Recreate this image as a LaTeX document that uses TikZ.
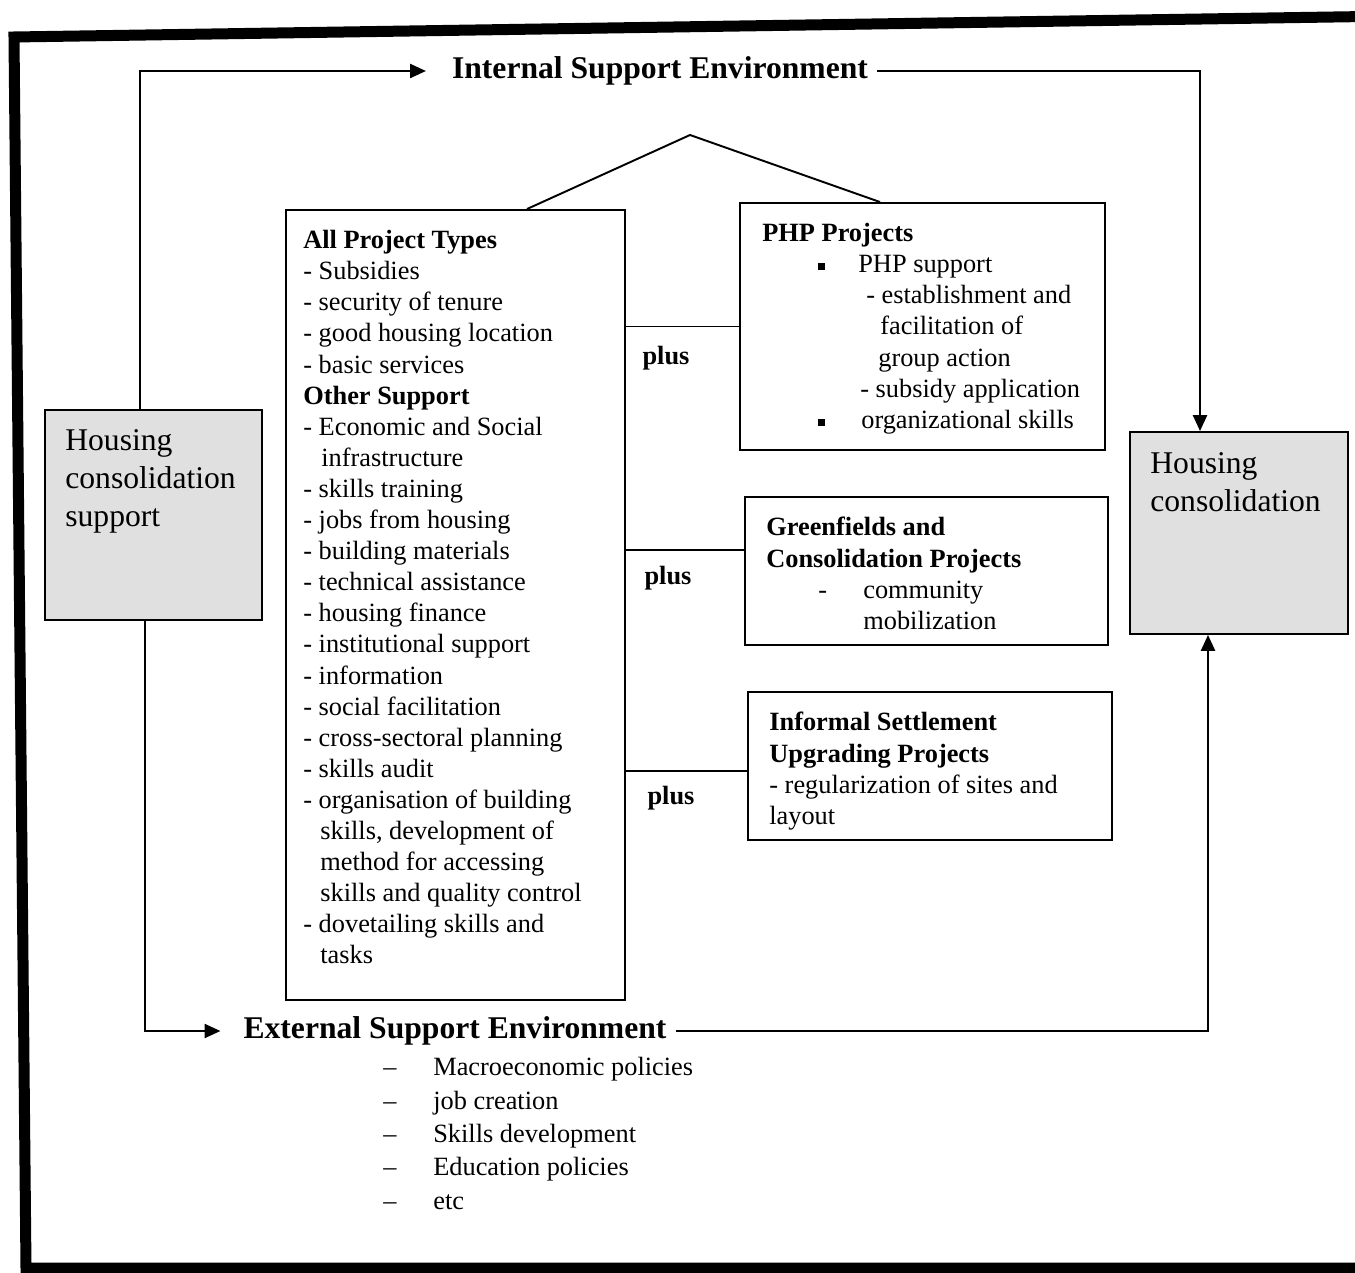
\documentclass[tikz,border=0pt]{standalone}
\usepackage{fontspec}
\setmainfont{Liberation Serif}
\usetikzlibrary{arrows.meta, fit}

\newcommand{\sqb}{\rule[1.5pt]{4pt}{4pt}}
\newcommand{\exitem}[1]{\makebox[1cm][l]{--}#1}

\begin{document}
\begin{tikzpicture}[x=0.02cm, y=-0.02cm,
  panel/.style={draw, line width=1.1pt, inner sep=0pt},
  hsgbox/.style={panel, fill=black!12},
  txt/.style={anchor=north west, align=left, inner sep=0pt, font=\fontsize{15}{17.7}\selectfont},
  bigtxt/.style={anchor=north west, align=left, inner sep=0pt, font=\fontsize{18}{21.6}\selectfont},
  head/.style={font=\fontsize{18}{21.6}\selectfont\bfseries, inner sep=5pt},
  plus/.style={font=\fontsize{15}{17.7}\selectfont\bfseries},
  link/.style={line width=1.1pt},
  arr/.style={link, -{Triangle[length=9pt,width=8pt]}}]
\useasboundingbox (0,0) rectangle (1355,1273);
\clip (0,0) rectangle (1355,1273);
\draw[line width=0.22cm, line join=miter] (1400,16) -- (14,37) -- (26,1268) -- (1400,1268);

\node[hsgbox, fit={(45,410) (262,620)}] (hcs) {};
\node[hsgbox, fit={(1130,432) (1348,634)}] (hc) {};
\node[panel, fit={(286,210) (625,1000)}] (allproj) {};
\node[panel, fit={(740,203) (1105,450)}] (php) {};
\node[panel, fit={(745,497) (1108,645)}] (gf) {};
\node[panel, fit={(748,692) (1112,840)}] (isu) {};

\node[bigtxt] (hcstxt) at (65,429) {Housing\\consolidation\\support};
\node[bigtxt] (hctxt) at (1150,452) {Housing\\consolidation};

\node[head] (internal) at (660,71) {Internal Support Environment};
\node[head] (external) at (455,1031) {External Support Environment};

\node[txt] (alltxt) at (303,230) {\textbf{All Project Types}\\
- Subsidies\\
- security of tenure\\
- good housing location\\
- basic services\\
\textbf{Other Support}\\
- Economic and Social\\
\hspace*{0.36cm}infrastructure\\
- skills training\\
- jobs from housing\\
- building materials\\
- technical assistance\\
- housing finance\\
- institutional support\\
- information\\
- social facilitation\\
- cross-sectoral planning\\
- skills audit\\
- organisation of building\\
\hspace*{0.34cm}skills, development of\\
\hspace*{0.34cm}method for accessing\\
\hspace*{0.34cm}skills and quality control\\
- dovetailing skills and\\
\hspace*{0.34cm}tasks};

\node[txt] (phptxt) at (762,223) {\textbf{PHP Projects}\\
\hspace*{1.12cm}\makebox[0.8cm][l]{\sqb}PHP support\\
\hspace*{2.08cm}- establishment and\\
\hspace*{2.36cm}facilitation of\\
\hspace*{2.32cm}group action\\
\hspace*{1.96cm}- subsidy application\\
\hspace*{1.12cm}\makebox[0.86cm][l]{\sqb}organizational skills};

\node[txt] (gftxt) at (766,517) {\textbf{Greenfields and}\\
\textbf{Consolidation Projects}\\
\hspace*{1.04cm}\makebox[0.9cm][l]{-}community\\
\hspace*{1.94cm}mobilization};

\node[txt] (isutxt) at (769,712) {\textbf{Informal Settlement}\\
\textbf{Upgrading Projects}\\
- regularization of sites and\\
layout};

\node[txt, font=\fontsize{15}{19}\selectfont] (exlist) at (383,1057) {\exitem{Macroeconomic policies}\\
\exitem{job creation}\\
\exitem{Skills development}\\
\exitem{Education policies}\\
\exitem{etc}};

% roof over the project boxes
\coordinate (apex) at (690,135);
\draw[link] ([xshift=1.43cm]allproj.north) -- (apex) -- ([xshift=-0.85cm]php.north);

\coordinate (gfin) at ([yshift=0.42cm]gf.west);
\coordinate (isuin) at ([yshift=-0.1cm]isu.west);
\draw[link] (php.west -| allproj.east) -- (php.west);
\draw[link] (gfin -| allproj.east) -- (gfin);
\draw[link] (isuin -| allproj.east) -- (isuin);
\node[plus] (plus1) at (666,358) {plus};
\node[plus] (plus2) at (668,578) {plus};
\node[plus] (plus3) at (671,798) {plus};

\draw[arr, shorten >=0.34cm] ([xshift=-0.27cm]hcs.north) |- (internal.west);
\draw[arr] (internal.east) -| ([xshift=-0.78cm]hc.north);
\draw[arr, shorten >=0.28cm] ([xshift=-0.17cm]hcs.south) |- (external.west);
\draw[arr] (external.east) -| ([xshift=-0.62cm]hc.south);
\end{tikzpicture}
\end{document}
